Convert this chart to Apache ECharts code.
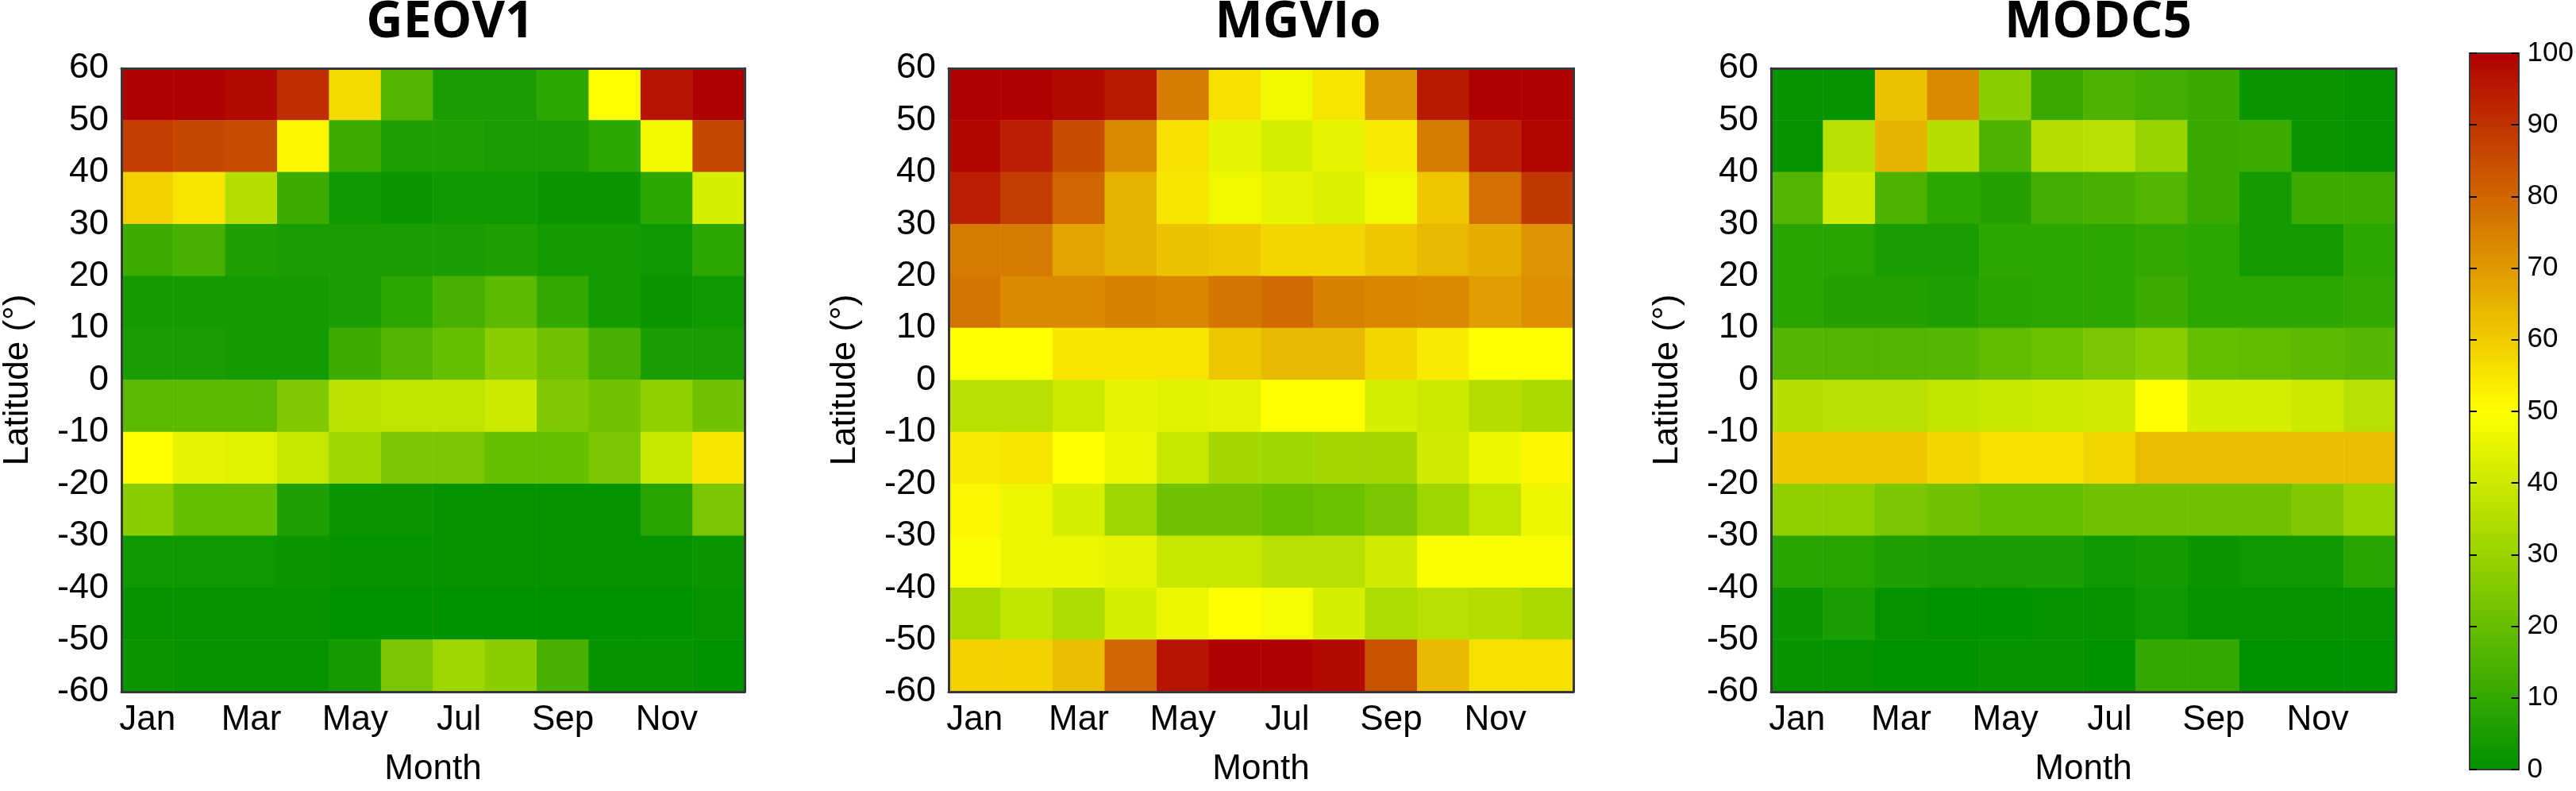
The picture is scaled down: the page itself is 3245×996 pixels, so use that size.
<!DOCTYPE html>
<html>
<head>
<meta charset="utf-8">
<title>Monthly latitude profiles</title>
<script src="https://cdn.jsdelivr.net/npm/echarts@6/dist/echarts.min.js"></script>
<style>
  html, body { margin: 0; padding: 0; background: #fff; }
  #chart { width: 3245px; height: 996px; }
</style>
</head>
<body>
<div id="chart"></div>
<script>
var months = ['Jan', 'Feb', 'Mar', 'Apr', 'May', 'Jun', 'Jul', 'Aug', 'Sep', 'Oct', 'Nov', 'Dec'];
// lower edge of each 10 degree band, south to north
var latBands = ['-60', '-50', '-40', '-30', '-20', '-10', '0', '10', '20', '30', '40', '50'];
var titles = ['GEOV1', 'MGVIo', 'MODC5'];

// rows are listed north to south: 50..60 first, -60..-50 last
var geov1 = [
  [100, 100, 98, 91, 57, 16, 5, 5, 9, 50, 96, 100],
  [88, 86, 85, 52, 12, 6, 6, 5, 5, 9, 47, 86],
  [59, 55, 35, 12, 3, 2, 3, 3, 2, 2, 9, 42],
  [12, 14, 6, 5, 5, 5, 5, 6, 4, 4, 3, 9],
  [4, 4, 4, 4, 5, 9, 14, 18, 10, 4, 2, 3],
  [5, 5, 4, 4, 12, 16, 20, 27, 22, 14, 5, 5],
  [18, 18, 18, 25, 37, 38, 38, 40, 25, 22, 28, 22],
  [50, 45, 44, 39, 31, 24, 24, 20, 20, 24, 39, 55],
  [27, 20, 20, 6, 2, 2, 1, 1, 1, 1, 8, 24],
  [3, 3, 3, 2, 1, 1, 1, 1, 1, 1, 1, 2],
  [1, 1, 1, 1, 0, 0, 0, 0, 0, 0, 0, 1],
  [2, 1, 1, 1, 4, 24, 31, 27, 14, 1, 1, 0]
];
var mgvio = [
  [100, 100, 98, 95, 76, 56, 47, 55, 70, 95, 100, 100],
  [99, 94, 85, 73, 56, 45, 42, 45, 54, 76, 94, 99],
  [94, 88, 80, 65, 55, 47, 45, 43, 47, 61, 78, 89],
  [76, 76, 68, 65, 62, 61, 58, 58, 61, 64, 66, 71],
  [77, 73, 73, 75, 74, 77, 79, 75, 74, 73, 69, 72],
  [50, 50, 55, 55, 55, 61, 64, 64, 58, 54, 50, 50],
  [36, 36, 40, 45, 44, 45, 50, 50, 42, 40, 35, 33],
  [54, 55, 50, 46, 39, 32, 31, 32, 32, 41, 46, 52],
  [52, 46, 42, 31, 22, 22, 20, 21, 24, 31, 38, 46],
  [49, 46, 46, 45, 39, 39, 36, 36, 41, 49, 49, 49],
  [33, 38, 34, 42, 46, 50, 48, 42, 34, 36, 35, 33],
  [59, 59, 63, 80, 96, 100, 100, 98, 84, 64, 56, 56]
];
var modc5 = [
  [1, 1, 62, 73, 27, 11, 15, 13, 11, 2, 2, 1],
  [1, 36, 65, 35, 15, 35, 36, 30, 11, 12, 2, 1],
  [16, 41, 15, 9, 7, 13, 14, 16, 11, 4, 12, 12],
  [8, 8, 5, 5, 9, 9, 9, 10, 9, 4, 4, 9],
  [8, 7, 7, 6, 8, 9, 9, 12, 9, 9, 9, 10],
  [16, 16, 16, 17, 19, 21, 24, 27, 20, 19, 18, 17],
  [35, 36, 36, 38, 39, 40, 41, 50, 42, 42, 40, 36],
  [61, 61, 61, 58, 56, 56, 58, 63, 63, 63, 63, 63],
  [28, 28, 24, 22, 20, 20, 22, 22, 22, 22, 25, 30],
  [8, 8, 6, 5, 5, 5, 3, 4, 2, 3, 3, 8],
  [2, 5, 1, 0, 0, 1, 1, 3, 1, 1, 1, 1],
  [1, 1, 0, 0, 1, 1, 0, 10, 10, 0, 0, 0]
];

var colorStops = ['#009200', '#ffff00', '#b00000'];

var chart = echarts.init(document.getElementById('chart'));

var lineColor = '#383838';
var labelFont = 'Liberation Sans, Arial, sans-serif';

function toCells(rows) {
  var out = [];
  rows.forEach(function (row, r) {
    row.forEach(function (v, m) {
      out.push([m, latBands.length - 1 - r, v]);
    });
  });
  return out;
}

var panels = [geov1, mgvio, modc5];
var gridLefts = [151, 1195, 2231];
var titleCenters = [562, 1630, 2638];

var grid = [], xAxis = [], yAxis = [], series = [], title = [];

panels.forEach(function (rows, p) {
  grid.push({ left: gridLefts[p], top: 86, width: 787, height: 787 });
  title.push({
    text: titles[p], left: titleCenters[p], top: -8, textAlign: 'center',
    textStyle: { fontFamily: 'Open Sans', fontWeight: 'bold', fontSize: 64, color: '#000' }
  });
  var tick = { inside: true, alignWithLabel: true, interval: 1, length: 9, lineStyle: { color: '#000', width: 2 } };
  xAxis.push({
    type: 'category', gridIndex: p, data: months, position: 'bottom', z: 10,
    axisLine: { onZero: false, lineStyle: { color: lineColor, width: 3 } },
    axisTick: tick,
    axisLabel: { interval: 1, fontSize: 44, margin: 14, color: '#000', fontFamily: labelFont },
    name: 'Month', nameLocation: 'middle', nameGap: 76,
    nameTextStyle: { fontSize: 44, color: '#000', fontFamily: labelFont }
  });
  xAxis.push({
    type: 'category', gridIndex: p, data: months, position: 'top', z: 10,
    axisLine: { onZero: false, lineStyle: { color: lineColor, width: 3 } },
    axisTick: tick,
    axisLabel: { show: false }
  });
  yAxis.push({ type: 'category', gridIndex: p, data: latBands, show: false, position: 'left' });
  var ytick = { inside: true, length: 9, lineStyle: { color: '#000', width: 2 } };
  yAxis.push({
    type: 'value', gridIndex: p, min: -60, max: 60, interval: 10, position: 'left', z: 10,
    axisLine: { show: true, onZero: false, lineStyle: { color: lineColor, width: 3 } },
    axisTick: ytick, splitLine: { show: false },
    axisLabel: { fontSize: 45, margin: 16, color: '#000', fontFamily: labelFont },
    name: 'Latitude (°)', nameLocation: 'middle', nameRotate: 90, nameGap: 108,
    nameTextStyle: { fontSize: 44, color: '#000', fontFamily: labelFont }
  });
  yAxis.push({
    type: 'value', gridIndex: p, min: -60, max: 60, interval: 10, position: 'right', z: 10,
    axisLine: { show: true, onZero: false, lineStyle: { color: lineColor, width: 3 } },
    axisTick: ytick, splitLine: { show: false },
    axisLabel: { show: false }
  });
  series.push({
    type: 'heatmap', xAxisIndex: 2 * p, yAxisIndex: 3 * p,
    data: toCells(rows), itemStyle: { borderWidth: 0 },
    emphasis: { disabled: true }, progressive: 0
  });
});

// colour bar frame and scale, drawn over the visualMap gradient
grid.push({ left: 3111, top: 67, width: 63, height: 902 });
['bottom', 'top'].forEach(function (pos) {
  xAxis.push({
    type: 'value', gridIndex: 3, min: 0, max: 1, position: pos, z: 10,
    axisLine: { show: true, onZero: false, lineStyle: { color: lineColor, width: 2 } },
    axisTick: { show: false }, axisLabel: { show: false }, splitLine: { show: false }
  });
});
['left', 'right'].forEach(function (pos) {
  yAxis.push({
    type: 'value', gridIndex: 3, min: 0, max: 100, interval: 10, position: pos, z: 10,
    axisLine: { show: true, onZero: false, lineStyle: { color: lineColor, width: 2 } },
    axisTick: { inside: true, length: 9, lineStyle: { color: '#000', width: 2 } },
    splitLine: { show: false },
    axisLabel: { show: pos === 'right', fontSize: 35, margin: 11, color: '#000', fontFamily: labelFont }
  });
});

chart.setOption({
  animation: false,
  backgroundColor: '#fff',
  title: title,
  grid: grid,
  xAxis: xAxis,
  yAxis: yAxis,
  visualMap: {
    type: 'continuous', min: 0, max: 100, seriesIndex: [0, 1, 2],
    calculable: false, hoverLink: false, orient: 'vertical',
    left: 3111, top: 67, itemWidth: 63, itemHeight: 902, padding: 0,
    inRange: { color: colorStops }
  },
  series: series
});
</script>
</body>
</html>
